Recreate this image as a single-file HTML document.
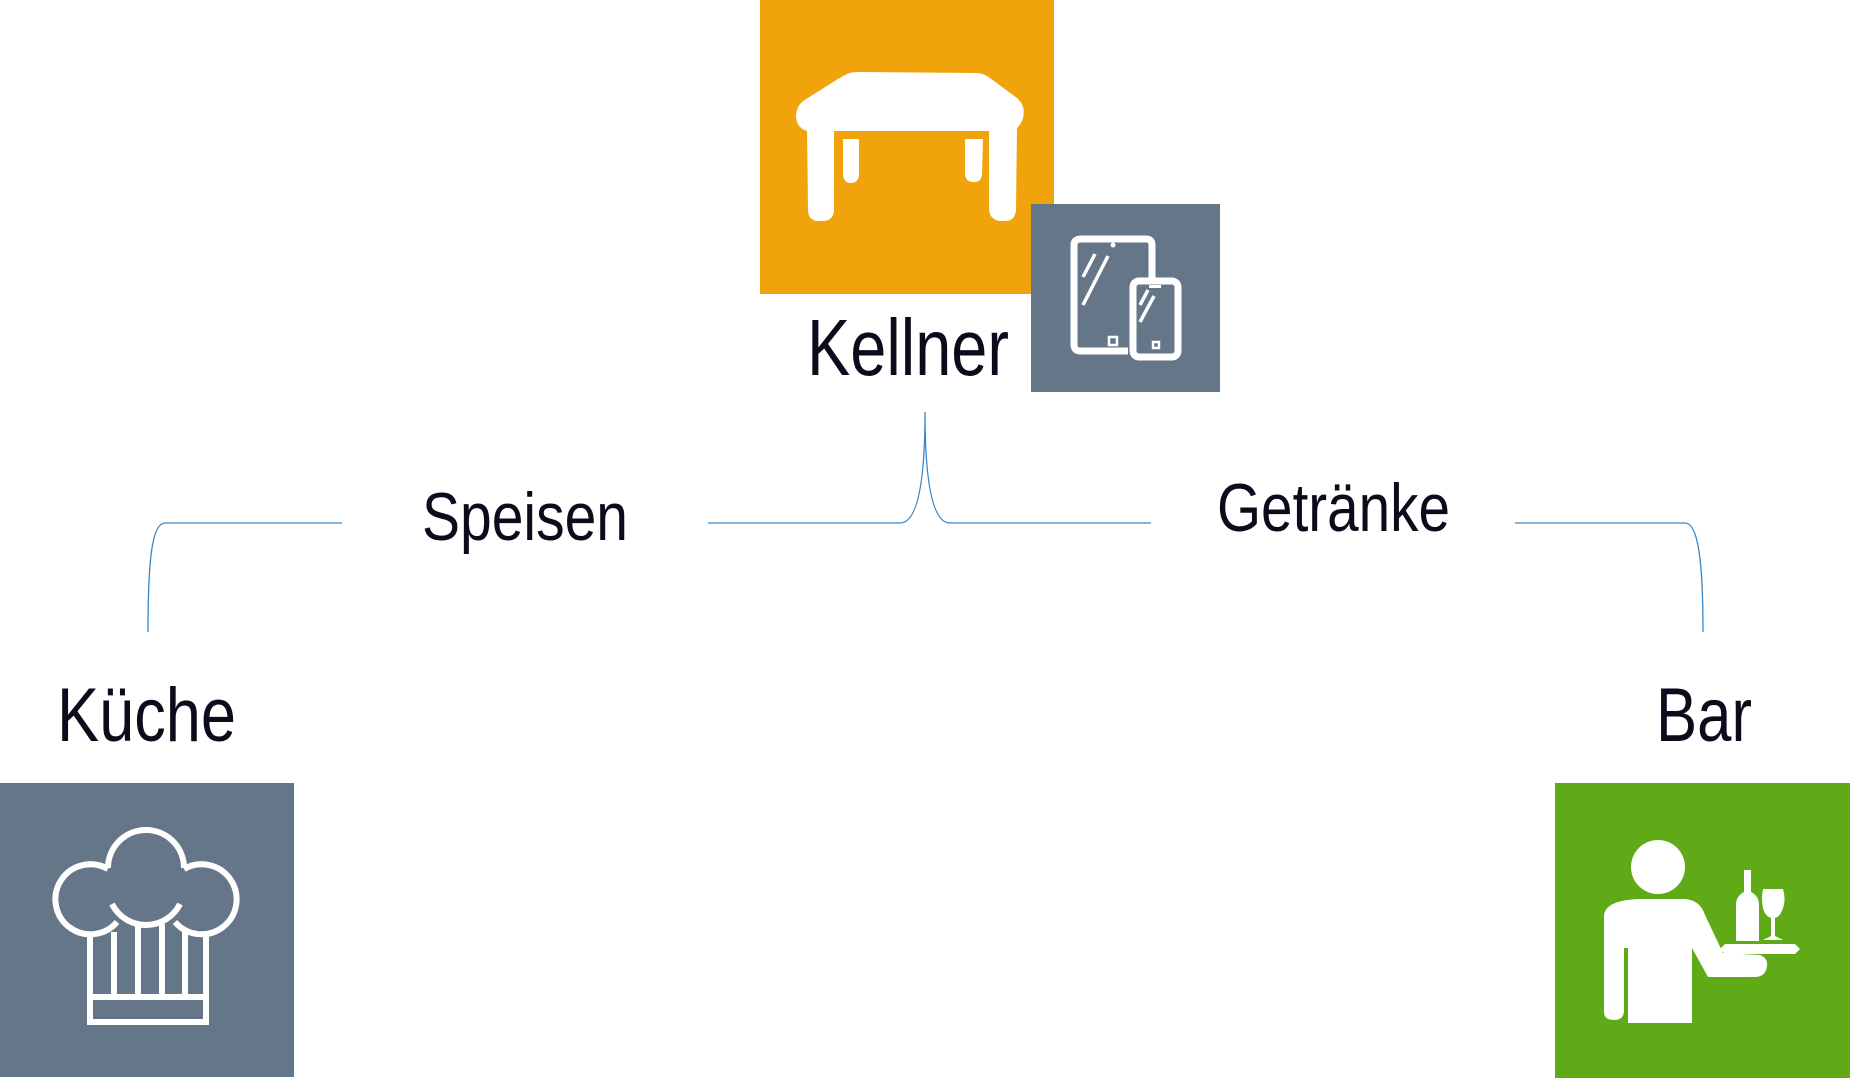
<!DOCTYPE html>
<html><head><meta charset="utf-8"><style>
html,body{margin:0;padding:0;background:#fff;width:1850px;height:1078px;overflow:hidden}
text{font-family:"Liberation Sans",sans-serif;fill:#0b0b1c}
</style></head><body>
<svg width="1850" height="1078" viewBox="0 0 1850 1078" xmlns="http://www.w3.org/2000/svg">
<g fill="none" stroke="#3a86c8" stroke-width="1.3">
<path d="M148 632 C148 560 152 523 165 523 L342 523"/>
<path d="M708 523 L900 523 C918 523 925 480 925 412 C925 480 932 523 950 523 L1151 523"/>
<path d="M1515 523 L1685 523 C1698 523 1703 560 1703 632"/>
</g>
<!-- Kellner -->
<rect x="760" y="0" width="294" height="294" fill="#F0A30A"/>
<g fill="#fff">
<path d="M845 75 Q850 72 858 72 L978 73 Q985 74 990 78 L1017 98 Q1026 106 1023 118 Q1020 128 1012 131 L807 131 Q797 128 796 117 Q796 107 803 101 L838 79 Z"/>
<path d="M807 128 L834 128 L834 212 Q832 221 823 221 L816 221 Q808 219 808 210 Z"/>
<path d="M989 128 L1017 128 L1016 210 Q1015 221 1005 221 L999 221 Q990 219 989 210 Z"/>
<path d="M843 139 L859 139 L859 175 Q858 183 851 183 Q844 183 843 175 Z"/>
<path d="M965 139 L983 139 L982 175 Q981 182 974 182 Q966 182 965 175 Z"/>
</g>
<rect x="1031" y="204" width="189" height="188" fill="#647687"/>
<g fill="none" stroke="#fff" stroke-width="7" stroke-linejoin="round">
<path d="M1128 351 L1080 351 Q1074 351 1074 344 L1074 245 Q1074 239 1081 239 L1146 239 Q1152 239 1152 245 L1152 278"/>
<rect x="1133" y="281" width="45" height="76" rx="6"/>
</g>
<g stroke="#fff" stroke-width="3.5" fill="none">
<path d="M1083 277 L1095 254 M1083 305 L1108 256 M1140 305 L1148 290 M1140 322 L1154 296"/>
</g>
<circle cx="1113" cy="245" r="2.5" fill="#fff"/>
<rect x="1149" y="285" width="12" height="3" fill="#fff"/>
<rect x="1109" y="337" width="8" height="8" fill="none" stroke="#fff" stroke-width="2.5"/>
<rect x="1153" y="342" width="6" height="6" fill="none" stroke="#fff" stroke-width="2.5"/>
<text x="807" y="375" font-size="80" textLength="202" lengthAdjust="spacingAndGlyphs">Kellner</text>
<text x="422" y="540" font-size="68" textLength="206" lengthAdjust="spacingAndGlyphs">Speisen</text>
<text x="1217" y="531" font-size="68" textLength="233" lengthAdjust="spacingAndGlyphs">Getränke</text>
<!-- Küche -->
<text x="57" y="741" font-size="76" textLength="179" lengthAdjust="spacingAndGlyphs">Küche</text>
<rect x="0" y="783" width="294" height="294" fill="#647687"/>
<g fill="none" stroke="#fff" stroke-width="6">
<path d="M108 868 A38 38 0 1 1 184 868"/>
<path d="M112 904 A38 38 0 0 0 180 904"/>
<path d="M108 869 A35 35 0 1 0 117 922"/>
<path d="M184 869 A35 35 0 1 1 175 922"/>
<path d="M90 932 L90 1022 L206 1022 L206 932"/>
<path d="M90 997 L206 997 M114 932 L114 997 M138 924 L138 997 M162 924 L162 997 M185 932 L185 997"/>
</g>
<!-- Bar -->
<text x="1656" y="741" font-size="76" textLength="96" lengthAdjust="spacingAndGlyphs">Bar</text>
<rect x="1555" y="783" width="295" height="295" fill="#60A917"/>
<g fill="#fff">
<circle cx="1658" cy="867" r="27"/>
<path d="M1604 915 Q1606 900 1640 899 L1685 899 Q1700 900 1705 915 L1723 953 L1760 955 Q1768 958 1767 966 Q1766 976 1756 977 L1708 977 L1692 948 L1692 1023 L1628 1023 L1628 948 L1624 948 L1624 1012 Q1623 1020 1614 1020 Q1604 1020 1604 1012 Z"/>
<path d="M1725 944 L1795 944 L1800 949 L1795 954 L1725 954 L1720 949 Z"/>
<path d="M1744 870 L1751 870 L1751 892 Q1759 896 1759 905 L1759 941 L1736 941 L1736 905 Q1736 896 1744 892 Z"/>
<path d="M1763 889 L1783 889 Q1786 900 1783 908 Q1780 917 1775 918 L1775 936 L1783 940 L1763 940 L1771 936 L1771 918 Q1765 916 1763 908 Q1761 898 1763 889 Z"/>
</g>
</svg>
</body></html>
